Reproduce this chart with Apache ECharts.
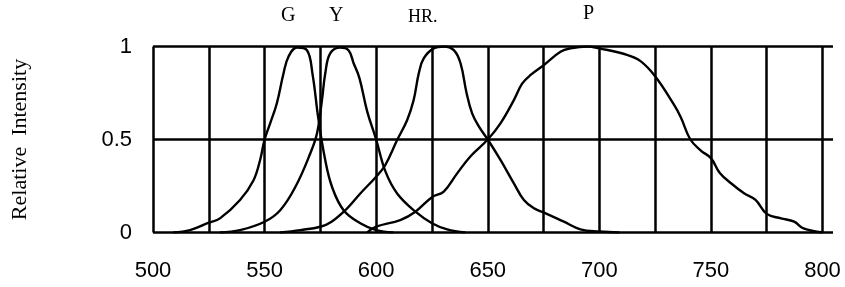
<!DOCTYPE html>
<html>
<head>
<meta charset="utf-8">
<script src="https://cdn.jsdelivr.net/npm/echarts@6/dist/echarts.min.js"></script>
<style>
  html, body { margin: 0; padding: 0; background: #fff; }
  #main { width: 845px; height: 287px; }
</style>
</head>
<body>
<div id="main"></div>
<script>
"use strict"
// wavelength (nm) / relative intensity
var gWave = [509, 516.6, 525, 530, 539, 545, 548, 550, 552.5, 555.5, 558.5, 560.7, 564.5, 569, 571.5, 574, 577, 580.2, 585.4, 592.9, 600, 607.7];
var gVal  = [0, 0.013, 0.053, 0.076, 0.175, 0.28, 0.39, 0.5, 0.587, 0.695, 0.856, 0.945, 0.995, 0.98, 0.85, 0.62, 0.40, 0.246, 0.12, 0.05, 0.013, 0];

var yWave = [530, 539, 550, 557, 564, 570.5, 573.5, 575.7, 577.2, 579.4, 583.9, 587.6, 589.9, 592.5, 596, 600, 604.1, 609.4, 617.6, 625, 631.8, 640];
var yVal  = [0, 0.013, 0.058, 0.12, 0.25, 0.426, 0.533, 0.71, 0.856, 0.963, 0.995, 0.98, 0.91, 0.83, 0.65, 0.5, 0.33, 0.21, 0.112, 0.05, 0.017, 0];

var hrWave = [557, 566, 575, 580, 587, 592.9, 600, 604.1, 609.4, 613.9, 616.8, 619.1, 621.3, 625.8, 630.3, 634.8, 637.8, 640.5, 643, 646, 650, 655.7, 661.7, 666.2, 670.7, 675.2, 684.1, 691.5, 700, 709];
var hrVal  = [0, 0.013, 0.031, 0.058, 0.13, 0.21, 0.30, 0.363, 0.497, 0.605, 0.712, 0.856, 0.936, 0.99, 1.0, 0.98, 0.91, 0.75, 0.64, 0.57, 0.5, 0.39, 0.264, 0.175, 0.13, 0.107, 0.058, 0.017, 0.005, 0];

var pWave = [596, 600, 610.8, 617.6, 625, 630.3, 636.3, 642.3, 650, 655.7, 661.7, 665.4, 669.2, 675.1, 682.6, 687.1, 694.6, 700, 712.4, 718.6, 725, 733.3, 736.5, 740.8, 745.5, 750, 754, 759, 765, 770, 775, 781.4, 787.3, 791.5, 800];
var pVal  = [0, 0.031, 0.067, 0.112, 0.19, 0.22, 0.318, 0.41, 0.5, 0.587, 0.712, 0.80, 0.847, 0.9, 0.972, 0.99, 1.0, 0.99, 0.955, 0.92, 0.84, 0.69, 0.62, 0.5, 0.44, 0.4, 0.32, 0.265, 0.21, 0.175, 0.10, 0.076, 0.058, 0.022, 0];

var curveNames = ['G', 'Y', 'HR.', 'P'];
var xTicks = [500, 550, 600, 650, 700, 750, 800];

function pairs(xs, ys) {
  return xs.map(function (x, i) { return [x, ys[i]]; });
}

var myChart = echarts.init(document.getElementById('main'));
var sansFont = '"Liberation Sans", Arial, sans-serif';
var serifFont = '"Liberation Serif", "Times New Roman", serif';

function curve(name, xs, ys) {
  return {
    name: name,
    type: 'line',
    xAxisIndex: 1,
    yAxisIndex: 1,
    smooth: 0.4,
    showSymbol: false,
    silent: true,
    lineStyle: { color: '#000', width: 2.4 },
    data: pairs(xs, ys)
  };
}

var option = {
  animation: false,
  backgroundColor: '#fff',
  // grid 0 carries the horizontal lines (a bit wider), grid 1 the curves
  grid: [
    { left: 153, right: 12, top: 46.5, bottom: 54.5 },
    { left: 153, right: 22.5, top: 46.5, bottom: 54.5 }
  ],
  xAxis: [
    { gridIndex: 0, type: 'value', min: 0, max: 1, show: false },
    {
      gridIndex: 1, type: 'value', min: 500, max: 800, interval: 25,
      axisLine: { show: false },
      axisTick: { show: false },
      splitLine: { show: true, lineStyle: { color: '#000', width: 2.5 } },
      axisLabel: {
        margin: 27,
        color: '#000',
        fontSize: 22,
        fontFamily: sansFont,
        formatter: function (v) { return xTicks.indexOf(v) >= 0 ? String(v) : ''; }
      }
    }
  ],
  yAxis: [
    {
      gridIndex: 0, type: 'value', min: 0, max: 1, interval: 0.5,
      axisLine: { show: false },
      axisTick: { show: false },
      splitLine: { show: true, lineStyle: { color: '#000', width: 2.5 } },
      axisLabel: { margin: 21, color: '#000', fontSize: 22, fontFamily: sansFont },
      name: 'Relative  Intensity',
      nameLocation: 'middle',
      nameGap: 122,
      nameTextStyle: { color: '#000', fontSize: 22, fontFamily: serifFont }
    },
    {
      gridIndex: 1, type: 'value', min: 0, max: 1, interval: 0.5,
      show: false
    }
  ],
  graphic: [
    { type: 'text', left: 289 - 8, top: 6, style: { text: curveNames[0], fontSize: 20, fontFamily: serifFont, fill: '#000' } },
    { type: 'text', left: 337 - 8, top: 6, style: { text: curveNames[1], fontSize: 20, fontFamily: serifFont, fill: '#000' } },
    { type: 'text', left: 425 - 17, top: 8, style: { text: curveNames[2], fontSize: 18, fontFamily: serifFont, fill: '#000' } },
    { type: 'text', left: 590 - 7, top: 4, style: { text: curveNames[3], fontSize: 20, fontFamily: serifFont, fill: '#000' } }
  ],
  series: [
    curve(curveNames[0], gWave, gVal),
    curve(curveNames[1], yWave, yVal),
    curve(curveNames[2], hrWave, hrVal),
    curve(curveNames[3], pWave, pVal)
  ]
};

myChart.setOption(option, true);
</script>
</body>
</html>
